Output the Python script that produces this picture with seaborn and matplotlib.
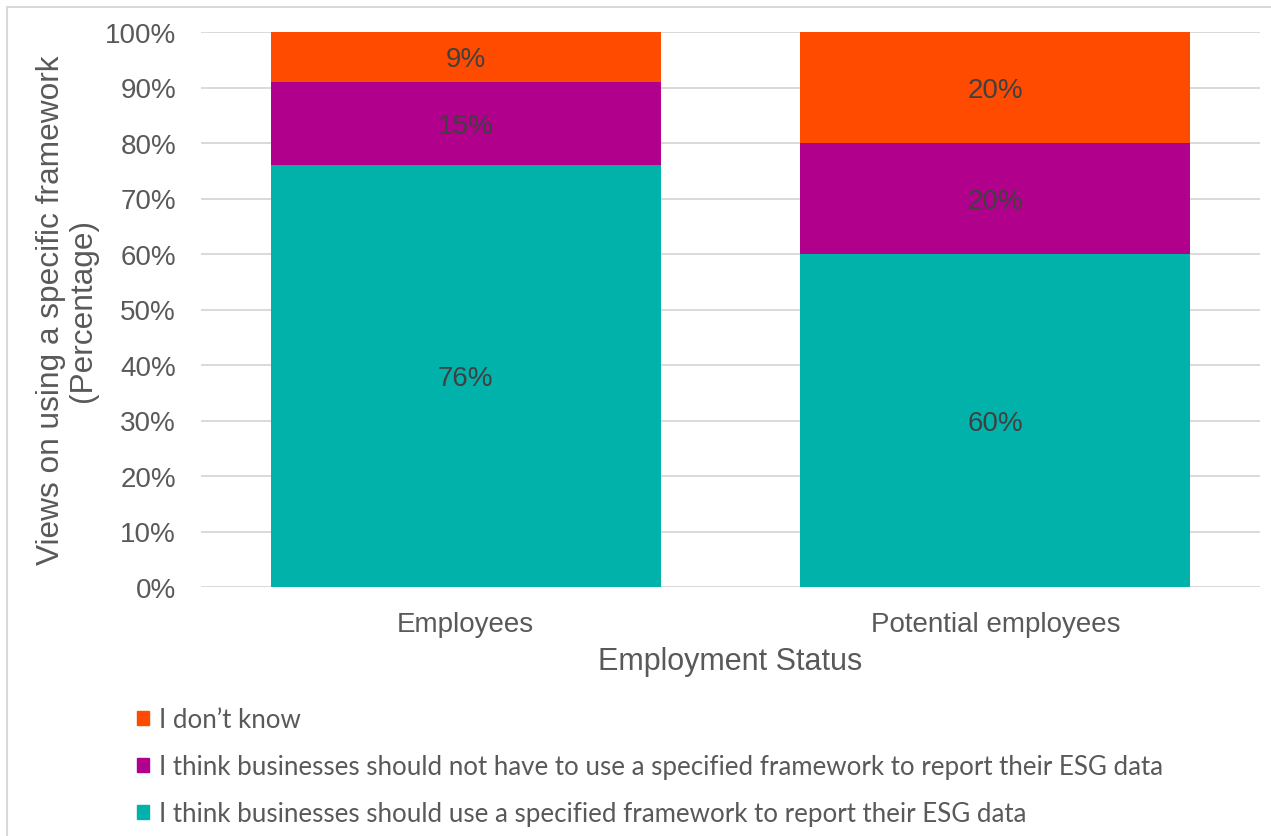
import matplotlib
matplotlib.use("Agg")
import matplotlib.pyplot as plt
import matplotlib.patches as mpatches
import numpy as np
import pandas as pd
import seaborn as sns

# Survey results: share of respondents per view, by employment status
categories = ["Employees", "Potential employees"]
should_use = [76, 60]
should_not = [15, 20]
dont_know = [9, 20]

series_names = [
    "I don\u2019t know",
    "I think businesses should not have to use a specified framework to report their ESG data",
    "I think businesses should use a specified framework to report their ESG data",
]
colors = {"dont_know": "#FF4B00", "should_not": "#B0008C", "should_use": "#00B2AA"}
y_ticks = [0, 10, 20, 30, 40, 50, 60, 70, 80, 90, 100]

sns.set_theme(style="white")
plt.rcParams["font.family"] = ["Liberation Sans", "DejaVu Sans"]

df = pd.DataFrame({
    "status": categories,
    "should_use": should_use,
    "should_not": should_not,
    "dont_know": dont_know,
})
df["top_use"] = df["should_use"]
df["top_not"] = df["should_use"] + df["should_not"]
df["top_dk"] = df["top_not"] + df["dont_know"]

W, H = 1271, 837
fig = plt.figure(figsize=(W / 100, H / 100), dpi=100)
ax = fig.add_axes([201 / W, 1 - 588 / H, (1260 - 201) / W, (588 - 33) / H])

# Stack by overdrawing cumulative totals, tallest first
for col, key in [("top_dk", "dont_know"), ("top_not", "should_not"), ("top_use", "should_use")]:
    sns.barplot(data=df, x="status", y=col, color=colors[key], width=0.737,
                saturation=1, ax=ax, linewidth=0, zorder=3)

# Segment labels centred in each block
for i, row in df.iterrows():
    segs = [(0, row["should_use"]), (row["top_use"], row["should_not"]),
            (row["top_not"], row["dont_know"])]
    for base, val in segs:
        ax.text(i, base + val / 2 - 0.4, f"{val:.0f}%", ha="center", va="center",
                fontsize=20, color="#404040", zorder=5)

ax.set_xlim(-0.5, 1.5)
ax.set_ylim(0, 100)
ax.set_yticks(y_ticks)
ax.set_yticklabels([f"{t}%" for t in y_ticks])
ax.yaxis.grid(True, color="#D9D9D9", linewidth=1.4, zorder=0)
ax.xaxis.grid(False)
for s in ax.spines.values():
    s.set_visible(False)
ax.tick_params(axis="both", length=0, labelsize=20, labelcolor="#595959")
ax.tick_params(axis="y", pad=18)
ax.tick_params(axis="x", pad=17)
ax.set_xlabel("Employment Status", fontsize=22, color="#595959", labelpad=7)
ax.set_ylabel("Views on using a specific framework\n(Percentage)", fontsize=22.8,
              color="#595959", labelpad=5, linespacing=1.08)

handles = [mpatches.Patch(color=colors[k]) for k in ["dont_know", "should_not", "should_use"]]
leg = fig.legend(handles, series_names, loc="upper left",
                 bbox_to_anchor=(137 / W, 1 - 708 / H), frameon=False,
                 prop={"family": "Lato", "size": 18.6}, labelcolor="#595959",
                 handlelength=0.48, handleheight=0.48, handletextpad=0.38,
                 labelspacing=0.85, borderaxespad=0, borderpad=0)

# Chart-area border
fig.add_artist(mpatches.Rectangle((7 / W, -0.5), 2, 1.5 - 8 / H, transform=fig.transFigure,
                                  fill=False, edgecolor="#D9D9D9", linewidth=1.5))

fig.savefig("out.png", dpi=100, facecolor="white")
